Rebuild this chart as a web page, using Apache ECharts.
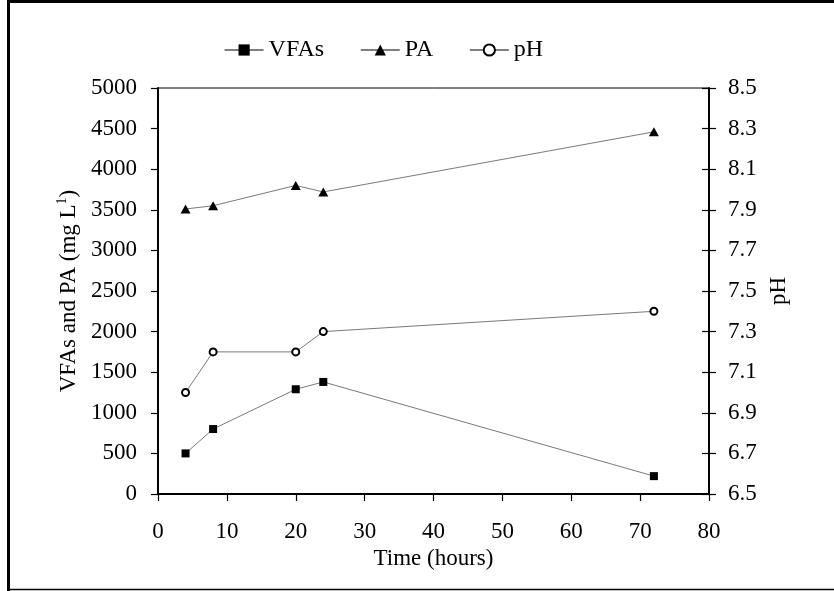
<!DOCTYPE html>
<html>
<head>
<meta charset="utf-8">
<script src="https://cdn.jsdelivr.net/npm/echarts@6/dist/echarts.min.js"></script>
<style>
html,body{margin:0;padding:0;background:#fff;}
#chart{width:834px;height:591px;}
</style>
</head>
<body>
<div id="chart"></div>
<script>
var time = [4, 8, 20, 24, 72];
var vfas = [500, 800, 1290, 1380, 220];
var pa = [3510, 3550, 3800, 3720, 4460];
var ph = [7.0, 7.2, 7.2, 7.3, 7.4];
var phTicks = [6.5, 6.7, 6.9, 7.1, 7.3, 7.5, 7.7, 7.9, 8.1, 8.3, 8.5];

var FONT = 'Liberation Serif, Times New Roman, serif';
function pairs(ys){ return time.map(function(t,i){ return [t, ys[i]]; }); }

var chart = echarts.init(document.getElementById('chart'), null, {renderer:'canvas'});
var labelStyle = {color:'#000', fontFamily:FONT, fontSize:23};
chart.setOption({
  animation:false,
  backgroundColor:'#fff',
  grid:{left:158, right:125, top:88, bottom:97, show:true, borderColor:'#000', borderWidth:1, backgroundColor:'transparent'},
  legend:{
    left:219, top:33, itemWidth:39, itemHeight:14, itemGap:36,
    textStyle:{color:'#000', fontFamily:FONT, fontSize:24},
    lineStyle:{color:'#000', width:1.2},
    data:['VFAs','PA','pH']
  },
  xAxis:{
    type:'value', min:0, max:80, interval:10,
    name:'Time (hours)', nameLocation:'middle', nameGap:51,
    nameTextStyle:labelStyle,
    axisLine:{lineStyle:{color:'#000', width:2}},
    axisTick:{show:true, inside:false, length:7, lineStyle:{color:'#000', width:1.2}},
    axisLabel:Object.assign({margin:26}, labelStyle),
    splitLine:{show:false}
  },
  yAxis:[
    {
      type:'value', min:0, max:5000, interval:500, position:'left',
      name:'VFAs and PA (mg L{sup|1})', nameLocation:'middle', nameGap:76, nameRotate:90,
      nameTextStyle:Object.assign({rich:{sup:{fontFamily:FONT, fontSize:14, color:'#000', verticalAlign:'top', padding:[0,0,12,0]}}}, labelStyle),
      axisLine:{show:true, lineStyle:{color:'#000', width:2}},
      axisTick:{show:true, inside:false, length:7, lineStyle:{color:'#000', width:1.2}},
      axisLabel:Object.assign({margin:21, formatter:function(v){return String(v);}}, labelStyle),
      splitLine:{show:false}
    },
    {
      type:'value', min:6.5, max:8.5, position:'right',
      name:'pH', nameLocation:'middle', nameGap:56, nameRotate:90,
      nameTextStyle:labelStyle,
      axisLine:{show:true, lineStyle:{color:'#000', width:2}},
      axisTick:{show:true, inside:false, length:7, customValues:phTicks, lineStyle:{color:'#000', width:1.2}},
      axisLabel:Object.assign({margin:19, customValues:phTicks, formatter:function(v){return v.toFixed(1);}}, labelStyle),
      splitLine:{show:false}
    },
    {
      type:'value', min:6.5, max:8.5, position:'right',
      axisLine:{show:false},
      axisTick:{show:true, inside:true, length:7, customValues:phTicks, lineStyle:{color:'#000', width:1.2}},
      axisLabel:{show:false},
      splitLine:{show:false}
    }
  ],
  series:[
    {
      name:'VFAs', type:'line', yAxisIndex:0, data:pairs(vfas),
      symbol:'rect', symbolSize:8,
      itemStyle:{color:'#000'},
      lineStyle:{color:'#7a7a7a', width:1}
    },
    {
      name:'PA', type:'line', yAxisIndex:0, data:pairs(pa),
      symbol:'triangle', symbolSize:[10,9],
      itemStyle:{color:'#000'},
      lineStyle:{color:'#7a7a7a', width:1}
    },
    {
      name:'pH', type:'line', yAxisIndex:1, data:pairs(ph),
      symbol:'emptyCircle', symbolSize:7,
      itemStyle:{color:'#000', borderColor:'#000', borderWidth:1.2},
      lineStyle:{color:'#7a7a7a', width:1}
    }
  ],
  graphic:[
    {type:'line', shape:{x1:7, y1:1.5, x2:834, y2:1.5}, style:{stroke:'#000', lineWidth:3}, silent:true},
    {type:'line', shape:{x1:8.5, y1:0, x2:8.5, y2:591}, style:{stroke:'#000', lineWidth:3}, silent:true},
    {type:'line', shape:{x1:7, y1:589.5, x2:834, y2:589.5}, style:{stroke:'#000', lineWidth:1.5}, silent:true}
  ]
});
</script>
</body>
</html>
